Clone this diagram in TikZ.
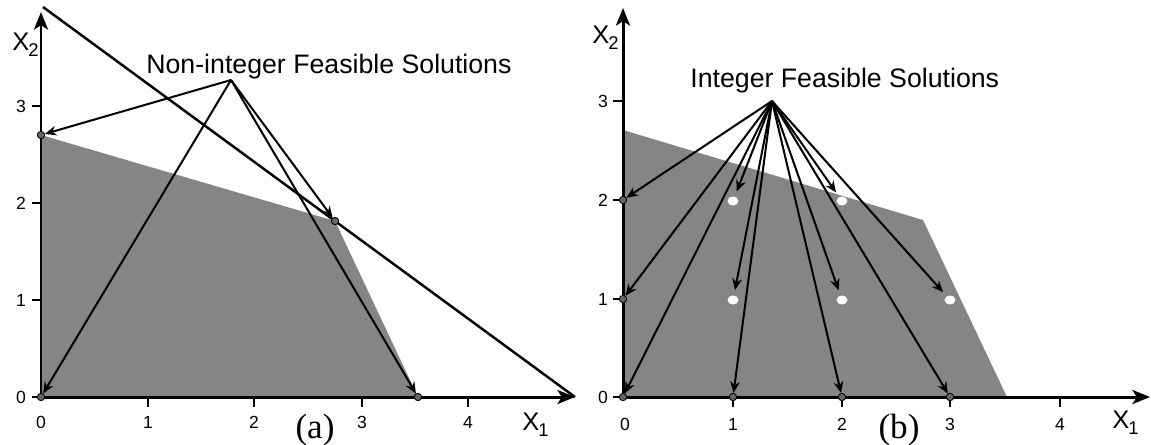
\documentclass[tikz,border=0pt]{standalone}
\usepackage{fontspec}
\setmainfont{Liberation Serif}
\newfontfamily\arial{Liberation Sans}
\usetikzlibrary{arrows.meta,shapes.geometric}
\definecolor{feas}{gray}{0.52}
\begin{document}
\begin{tikzpicture}[x=0.02cm,y=-0.02cm,
  axis/.style={line width=1.7pt,-{Stealth[length=10pt,width=8pt,inset=2.5pt]}},
  tickmark/.style={line width=1pt},
  ptr/.style={line width=1.15pt,-{Stealth[length=6.5pt,width=5.5pt]}},
  cline/.style={line width=1.4pt},
  dot/.style={circle,fill=black!60,draw=black,line width=0.5pt,inner sep=0pt,minimum size=4.2pt},
  wdot/.style={ellipse,fill=white,inner sep=0pt,minimum width=6.2pt,minimum height=5.2pt},
  num/.style={font=\arial\fontsize{10}{11}\selectfont,inner sep=0pt},
  axlab/.style={font=\arial\fontsize{14.5}{16}\selectfont,inner sep=0pt},
  ttl/.style={font=\arial\fontsize{15.2}{17}\selectfont,inner sep=0pt},
  capt/.style={font=\fontsize{20}{22}\selectfont,inner sep=0pt}]
\useasboundingbox (0,0) rectangle (1151,444);
\newcommand{\subtwo}[1]{\kern-0.5pt\raisebox{-0.45ex}{\fontsize{10.5}{11}\selectfont #1}}

% ================= panel (a) =================
\fill[feas] (41,135) -- (335,221) -- (418,397) -- (41,397) -- cycle;
\coordinate (lO) at (41,397);
\coordinate (lX) at (575,397);
\coordinate (lY) at (41,12);
\draw[axis] (lO) -- (lX);
\draw[axis] (lO) -- (lY);
\foreach \x in {148,254,362,468} \draw[tickmark] (\x,397) -- (\x,407);
\foreach \y in {106,203,300,397} \draw[tickmark] (32,\y) -- (41,\y);
\node[num] (la0) at (41,422) {0};
\node[num] (la1) at (148,422) {1};
\node[num] (la2) at (254,422) {2};
\node[num] (la3) at (362,422) {3};
\node[num] (la4) at (468,422) {4};
\node[num] (lb0) at (21,397) {0};
\node[num] (lb1) at (21,300) {1};
\node[num] (lb2) at (21,203) {2};
\node[num] (lb3) at (21,106) {3};
\node[axlab,anchor=base west] (lx2) at (12,50) {X\subtwo{2}};
\node[axlab,anchor=base west] (lx1) at (522,430) {X\subtwo{1}};
\node[capt,anchor=base] (capa) at (315,438) {(a)};
\node[ttl,anchor=base west] (tta) at (146,73) {Non-integer Feasible Solutions};

% constraint line
\coordinate (ltop) at (43,7);
\draw[cline] (ltop) -- (lX);

\node[dot] (a1) at (41,135) {};
\node[dot] (a2) at (335,221) {};
\node[dot] (a3) at (41,397) {};
\node[dot] (a4) at (418,397) {};
\coordinate (sa) at (231,80);
\foreach \t in {a1,a2,a3,a4} \draw[ptr] (sa) -- (\t);

% ================= panel (b) =================
\fill[feas] (623,130) -- (923,220) -- (1007,397) -- (623,397) -- cycle;
\coordinate (rO) at (623,397);
\coordinate (rX) at (1150,397);
\coordinate (rY) at (623,8);
\draw[axis] (rO) -- (rX);
\draw[axis] (rO) -- (rY);
\foreach \x in {733,842,950,1060} \draw[tickmark] (\x,397) -- (\x,407);
\foreach \y in {101,200,299,397} \draw[tickmark] (613,\y) -- (623,\y);
\node[num] (ra0) at (625,424) {0};
\node[num] (ra1) at (733,424) {1};
\node[num] (ra2) at (842,424) {2};
\node[num] (ra3) at (950,424) {3};
\node[num] (ra4) at (1060,424) {4};
\node[num] (rb0) at (603,397) {0};
\node[num] (rb1) at (603,299) {1};
\node[num] (rb2) at (603,200) {2};
\node[num] (rb3) at (603,101) {3};
\node[axlab,anchor=base west] (rx2) at (592,43) {X\subtwo{2}};
\node[axlab,anchor=base west] (rx1) at (1112,428) {X\subtwo{1}};
\node[capt,anchor=base] (capb) at (899,438) {(b)};
\node[ttl,anchor=base west] (ttb) at (690,87) {Integer Feasible Solutions};

\node[dot] (d02) at (623,200) {};
\node[dot] (d01) at (623,299) {};
\node[dot] (d00) at (623,397) {};
\node[dot] (d10) at (733,397) {};
\node[dot] (d20) at (842,397) {};
\node[dot] (d30) at (950,397) {};
\node[wdot] (w12) at (733,201) {};
\node[wdot] (w22) at (842,201) {};
\node[wdot] (w11) at (733,300) {};
\node[wdot] (w21) at (842,300) {};
\node[wdot] (w31) at (950,300) {};
\coordinate (sb) at (772,101);
\foreach \t in {d02,d01,d00,d10,d20,d30} \draw[ptr] (sb) -- (\t);
\foreach \t in {w12,w22,w11,w21,w31} \draw[ptr,shorten >=3pt] (sb) -- (\t);
\end{tikzpicture}
\end{document}
